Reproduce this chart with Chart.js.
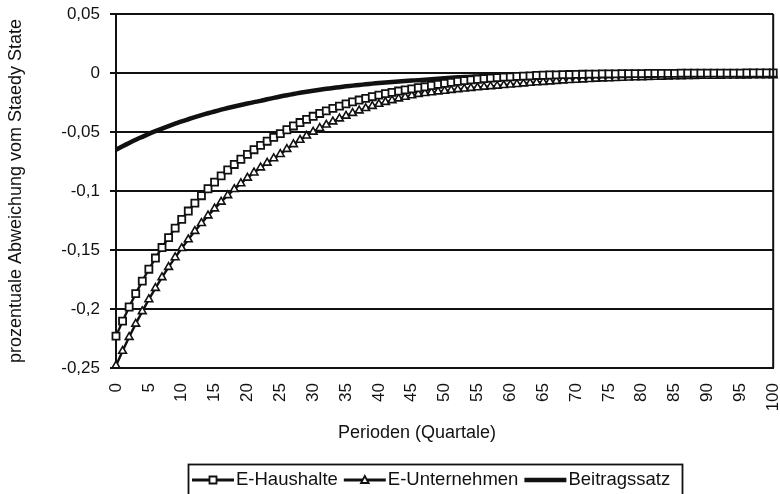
<!DOCTYPE html>
<html lang="de">
<head>
<meta charset="utf-8">
<title>Abweichung vom Steady State</title>
<script src="https://cdn.jsdelivr.net/npm/chart.js@4/dist/chart.umd.min.js"></script>
<style>
  html, body { margin: 0; padding: 0; background: #fff; }
  #chart { display: block; }
</style>
</head>
<body>
<canvas id="chart" width="780" height="494"></canvas>
<script>
// ---------- Daten ----------
const perioden = [];
for (let i = 0; i <= 100; i++) perioden.push(String(i));

const yTicks = [0.05, 0, -0.05, -0.1, -0.15, -0.2, -0.25];

const eHaushalte = [
  -0.2230, -0.2103, -0.1983, -0.1870, -0.1764, -0.1663, -0.1568, -0.1479, -0.1395, -0.1315,
  -0.1240, -0.1170, -0.1103, -0.1040, -0.0981, -0.0925, -0.0872, -0.0822, -0.0775, -0.0731,
  -0.0690, -0.0650, -0.0613, -0.0578, -0.0545, -0.0514, -0.0481, -0.0449, -0.0420, -0.0393,
  -0.0367, -0.0343, -0.0321, -0.0300, -0.0281, -0.0262, -0.0245, -0.0229, -0.0215, -0.0201,
  -0.0188, -0.0175, -0.0164, -0.0153, -0.0143, -0.0134, -0.0125, -0.0117, -0.0106, -0.0096,
  -0.0087, -0.0079, -0.0071, -0.0064, -0.0058, -0.0053, -0.0048, -0.0043, -0.0039, -0.0035,
  -0.0032, -0.0029, -0.0026, -0.0024, -0.0021, -0.0019, -0.0017, -0.0016, -0.0014, -0.0013,
  -0.0012, -0.0011, -0.0010, -0.0009, -0.0008, -0.0008, -0.0007, -0.0006, -0.0006, -0.0005,
  -0.0005, -0.0004, -0.0004, -0.0003, -0.0003, -0.0003, -0.0002, -0.0002, -0.0002, -0.0002,
  -0.0001, -0.0001, -0.0001, -0.0001, -0.0001, -0.0001, 0, 0, 0, 0,
  0
];

const eUnternehmen = [
  -0.2480, -0.2356, -0.2238, -0.2126, -0.2020, -0.1919, -0.1823, -0.1732, -0.1645, -0.1563,
  -0.1485, -0.1411, -0.1340, -0.1273, -0.1209, -0.1149, -0.1092, -0.1037, -0.0985, -0.0936,
  -0.0889, -0.0845, -0.0802, -0.0762, -0.0724, -0.0688, -0.0645, -0.0605, -0.0568, -0.0532,
  -0.0499, -0.0468, -0.0439, -0.0412, -0.0387, -0.0363, -0.0340, -0.0319, -0.0299, -0.0281,
  -0.0263, -0.0247, -0.0232, -0.0217, -0.0204, -0.0191, -0.0179, -0.0172, -0.0165, -0.0158,
  -0.0152, -0.0145, -0.0139, -0.0134, -0.0128, -0.0123, -0.0118, -0.0113, -0.0109, -0.0104,
  -0.0100, -0.0095, -0.0090, -0.0085, -0.0081, -0.0077, -0.0073, -0.0069, -0.0065, -0.0062,
  -0.0059, -0.0056, -0.0053, -0.0050, -0.0048, -0.0046, -0.0044, -0.0042, -0.0040, -0.0038,
  -0.0037, -0.0035, -0.0034, -0.0033, -0.0031, -0.0030, -0.0029, -0.0028, -0.0027, -0.0026,
  -0.0025, -0.0025, -0.0024, -0.0023, -0.0023, -0.0022, -0.0022, -0.0021, -0.0021, -0.0020,
  -0.0020
];

const beitragssatz = [
  -0.0650, -0.0621, -0.0593, -0.0566, -0.0541, -0.0516, -0.0493, -0.0471, -0.0450, -0.0430,
  -0.0410, -0.0392, -0.0374, -0.0357, -0.0341, -0.0326, -0.0311, -0.0297, -0.0284, -0.0271,
  -0.0259, -0.0247, -0.0236, -0.0223, -0.0211, -0.0199, -0.0188, -0.0178, -0.0168, -0.0159,
  -0.0150, -0.0142, -0.0134, -0.0127, -0.0120, -0.0113, -0.0107, -0.0101, -0.0096, -0.0090,
  -0.0085, -0.0081, -0.0076, -0.0072, -0.0068, -0.0064, -0.0061, -0.0057, -0.0053, -0.0048,
  -0.0044, -0.0041, -0.0037, -0.0034, -0.0032, -0.0029, -0.0027, -0.0025, -0.0023, -0.0021,
  -0.0019, -0.0017, -0.0016, -0.0015, -0.0014, -0.0012, -0.0011, -0.0010, -0.0010, -0.0009,
  -0.0008, -0.0007, -0.0007, -0.0006, -0.0006, -0.0005, -0.0005, -0.0004, -0.0004, -0.0004,
  -0.0003, -0.0003, -0.0003, -0.0003, -0.0002, -0.0002, -0.0002, -0.0002, -0.0002, -0.0001,
  -0.0001, -0.0001, -0.0001, -0.0001, -0.0001, -0.0001, 0, 0, 0, 0,
  0
];

// ---------- Stil ----------
const SCHRIFT = '"Liberation Sans", Arial, sans-serif';
const SCHWARZ = '#111';

function kommaZahl(v) {
  return String(Number(v.toFixed(2))).replace('.', ',');
}

// kleines Marker-Zeichnen für die Legende
function zeichneMarker(ctx, stil, x, y) {
  ctx.fillStyle = '#fff';
  ctx.strokeStyle = SCHWARZ;
  ctx.lineWidth = 1.8;
  ctx.beginPath();
  if (stil === 'rect') {
    ctx.rect(x - 3.5, y - 3.5, 7, 7);
  } else if (stil === 'triangle') {
    ctx.moveTo(x, y - 4);
    ctx.lineTo(x + 3.8, y + 3);
    ctx.lineTo(x - 3.8, y + 3);
    ctx.closePath();
  }
  ctx.fill();
  ctx.stroke();
}

// Rahmen um die Zeichenfläche, x-Achsentitel und Legende im Kasten
const rahmenPlugin = {
  id: 'rahmen',
  afterDraw(chart) {
    const ctx = chart.ctx;
    const a = chart.chartArea;
    ctx.save();
    ctx.strokeStyle = SCHWARZ;
    ctx.lineWidth = 2;
    ctx.beginPath();
    ctx.moveTo(a.right, a.top);
    ctx.lineTo(a.right, a.bottom);
    ctx.stroke();

    // Achsentitel unten
    ctx.fillStyle = SCHWARZ;
    ctx.font = '18px ' + SCHRIFT;
    ctx.textAlign = 'center';
    ctx.textBaseline = 'middle';
    ctx.fillText('Perioden (Quartale)', 417, 433);

    // Legende
    ctx.lineWidth = 1.8;
    ctx.strokeRect(188.5, 464.5, 494, 40);
    ctx.font = '18.5px ' + SCHRIFT;
    ctx.textAlign = 'left';
    const y = 480;
    let x = 192;
    chart.data.datasets.forEach(ds => {
      ctx.strokeStyle = SCHWARZ;
      ctx.lineWidth = Math.max(ds.borderWidth, 3);
      ctx.beginPath();
      ctx.moveTo(x, y);
      ctx.lineTo(x + 42, y);
      ctx.stroke();
      if (ds.pointRadius > 0) zeichneMarker(ctx, ds.pointStyle, x + 21, y);
      ctx.fillStyle = SCHWARZ;
      ctx.fillText(ds.label, x + 44, y);
      x += 44 + ctx.measureText(ds.label).width + 6;
    });
    ctx.restore();
  }
};

new Chart(document.getElementById('chart'), {
  type: 'line',
  data: {
    labels: perioden,
    datasets: [
      {
        label: 'E-Haushalte',
        data: eHaushalte,
        borderColor: SCHWARZ,
        borderWidth: 2.4,
        pointStyle: 'rect',
        pointRadius: 5,
        pointBorderWidth: 1.8,
        pointBackgroundColor: '#fff',
        pointBorderColor: SCHWARZ,
        tension: 0
      },
      {
        label: 'E-Unternehmen',
        data: eUnternehmen,
        borderColor: SCHWARZ,
        borderWidth: 2.4,
        pointStyle: 'triangle',
        pointRadius: 4.5,
        pointBorderWidth: 1.6,
        pointBackgroundColor: '#fff',
        pointBorderColor: SCHWARZ,
        tension: 0
      },
      {
        label: 'Beitragssatz',
        data: beitragssatz,
        borderColor: SCHWARZ,
        borderWidth: 4.5,
        pointRadius: 0,
        tension: 0.2
      }
    ]
  },
  options: {
    responsive: false,
    animation: false,
    events: [],
    layout: { padding: { top: 14, right: 2, left: 0, bottom: 0 } },
    plugins: {
      legend: { display: false },
      tooltip: { enabled: false }
    },
    scales: {
      x: {
        type: 'category',
        offset: false,
        grid: { display: true, drawOnChartArea: false, drawTicks: false },
        border: { display: true, color: SCHWARZ, width: 2 },
        ticks: {
          autoSkip: false,
          maxRotation: 90,
          minRotation: 90,
          padding: 15,
          color: SCHWARZ,
          font: { family: SCHRIFT, size: 17 },
          callback: function (value, index) {
            return index % 5 === 0 ? perioden[index] : '';
          }
        },
        afterFit: function (scale) {
          scale.height = 126;
          scale.paddingLeft = 0;
          scale.paddingRight = 0;
        }
      },
      y: {
        min: -0.25,
        max: 0.05,
        afterBuildTicks: function (scale) {
          scale.ticks = yTicks.map(v => ({ value: v }));
        },
        grid: { color: SCHWARZ, lineWidth: 2, tickLength: 6, tickColor: SCHWARZ },
        border: { display: true, color: SCHWARZ, width: 2 },
        ticks: {
          padding: 10,
          color: SCHWARZ,
          font: { family: SCHRIFT, size: 17 },
          callback: function (value) { return kommaZahl(value); }
        },
        title: {
          display: true,
          text: 'prozentuale Abweichung vom Staedy State',
          color: SCHWARZ,
          font: { family: SCHRIFT, size: 18 },
          padding: { top: 5, bottom: 0 }
        },
        afterFit: function (scale) {
          scale.width = 116;
          scale.paddingTop = 0;
          scale.paddingBottom = 0;
        }
      }
    }
  },
  plugins: [rahmenPlugin]
});
</script>
</body>
</html>
